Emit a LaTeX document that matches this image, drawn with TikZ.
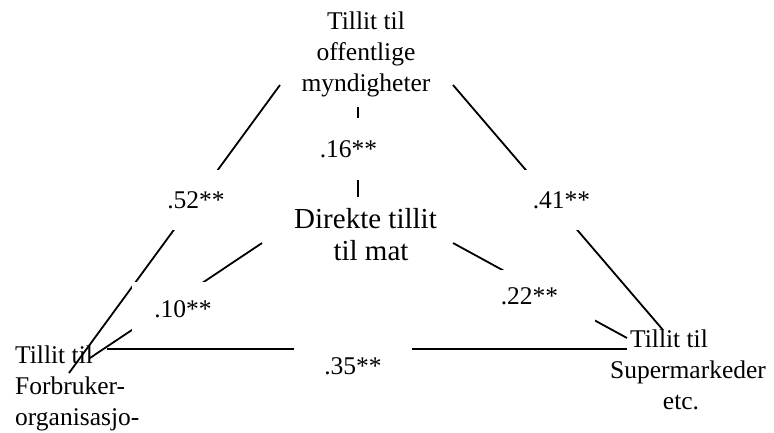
\documentclass[tikz,border=0pt]{standalone}
\usepackage{fontspec}
\setmainfont{Liberation Serif}
\usepackage{tikz}

\begin{document}
\begin{tikzpicture} [x=1pt, y=-1pt,
       trustnode/.style = {inner sep=0pt, align=center,
                           font=\fontsize{25.5}{31}\selectfont},
       coef/.style 2 args = {rectangle, fill=white, inner sep=0pt,
                             minimum width=#1, minimum height=#2,
                             font=\fontsize{25.5}{31}\selectfont},
       link/.style = {line width=1.8pt, black}]
	\useasboundingbox (0,0) rectangle (774,432);
	%% Nodes
	\node [trustnode, anchor=north] (off) at (366,12) {Tillit til\\offentlige\\myndigheter};
	\node [trustnode, anchor=north, font=\fontsize{29}{32.5}\selectfont] (mat) at (365.5,208)
	      {Direkte tillit\\\hspace*{11pt}til mat};
	\node [trustnode, anchor=north west, align=left] (forb) at (15,345.5)
	      {Tillit til\\Forbruker-\\organisasjo-};
	\node [trustnode, anchor=north] (super) at (688,329.5)
	      {Tillit til\hspace*{38pt}\\Supermarkeder\\etc.\hspace*{14pt}};
	%% Line ends
	\coordinate (off-w) at (280,85);
	\coordinate (off-e) at (453,85);
	\coordinate (off-s) at (358,107);
	\coordinate (mat-n) at (358,197);
	\coordinate (mat-sw) at (262,243);
	\coordinate (mat-se) at (453,243);
	\coordinate (forb-n) at (69,373);
	\coordinate (forb-e) at (90,358);
	\coordinate (forb-h) at (107,349);
	\coordinate (super-n) at (663,330);
	\coordinate (super-w) at (627,338);
	\coordinate (super-h) at (627,349);
	%% Links
	\draw [link] (off-w) -- (forb-n);
	\draw [link] (off-e) -- (super-n);
	\draw [link] (off-s) -- (mat-n);
	\draw [link] (mat-sw) -- (forb-e);
	\draw [link] (mat-se) -- (super-w);
	\draw [link] (forb-h) -- (super-h);
	%% Coefficients
	\node [coef={72}{62}] (c16) at (348.5,149) {.16**};
	\node [coef={70}{60}] (c52) at (196,200) {.52**};
	\node [coef={74}{60}] (c41) at (561.5,200) {.41**};
	\node [coef={103}{55}] (c10) at (183,309.5) {.10**};
	\node [coef={131}{53}] (c22) at (529.5,296.5) {.22**};
	\node [coef={118}{40}] (c35) at (353,366) {.35**};
\end{tikzpicture}
\end{document}
